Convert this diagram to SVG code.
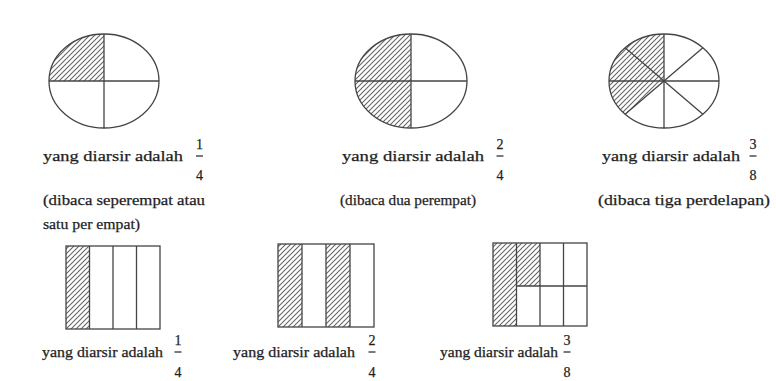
<svg xmlns="http://www.w3.org/2000/svg" width="776" height="381" viewBox="0 0 776 381">
<defs>
<pattern id="hatch" patternUnits="userSpaceOnUse" width="5" height="5">
<path d="M-1,1 l2,-2 M0,5 l5,-5 M4,6 l2,-2" stroke="#666" stroke-width="1.1"/>
</pattern>
</defs>
<style>
.ln{fill:none;stroke:#444;stroke-width:1.3}
.hf{fill:url(#hatch);stroke:none}
text{font-family:'Liberation Serif','DejaVu Serif','Times New Roman',serif;fill:#1e1e1e;stroke:#1e1e1e;stroke-width:0.25}
.t1{font-size:15px}
.t2{font-size:14px}
.fr{font-size:14px;text-anchor:middle}
.bar{stroke:#222;stroke-width:1.2}
</style>
<rect width="776" height="381" fill="#fff"/>

<g id="circle-1-4">
<path class="hf" d="M104,81 L49,81 A55,47 0 0 1 104,34 Z"/>
<ellipse class="ln" cx="104" cy="81" rx="55" ry="47"/>
<line class="ln" x1="104" y1="34" x2="104" y2="128"/>
<line class="ln" x1="49" y1="81" x2="159" y2="81"/>
</g>

<g id="circle-2-4">
<path class="hf" d="M411,34 A56,47 0 0 0 411,128 Z"/>
<ellipse class="ln" cx="411" cy="81" rx="56" ry="47"/>
<line class="ln" x1="411" y1="34" x2="411" y2="128"/>
<line class="ln" x1="355" y1="81" x2="467" y2="81"/>
</g>

<g id="circle-3-8">
<path class="hf" d="M664,81 L664,34 A55,47 0 0 0 625.1,114.2 Z"/>
<ellipse class="ln" cx="664" cy="81" rx="55" ry="47"/>
<line class="ln" x1="664" y1="34" x2="664" y2="128"/>
<line class="ln" x1="609" y1="81" x2="719" y2="81"/>
<line class="ln" x1="625.1" y1="47.8" x2="702.9" y2="114.2"/>
<line class="ln" x1="702.9" y1="47.8" x2="625.1" y2="114.2"/>
</g>

<g id="label-circle-1">
<text class="t1" x="43" y="161" textLength="140" lengthAdjust="spacingAndGlyphs">yang diarsir adalah</text>
<text class="fr" x="199.5" y="149">1</text>
<line class="bar" x1="196" y1="156" x2="203" y2="156"/>
<text class="fr" x="199.5" y="180">4</text>
<text class="t1" x="43" y="205" textLength="162" lengthAdjust="spacingAndGlyphs">(dibaca seperempat atau</text>
<text class="t1" x="43" y="229" textLength="97" lengthAdjust="spacingAndGlyphs">satu per empat)</text>
</g>

<g id="label-circle-2">
<text class="t1" x="342" y="161" textLength="142" lengthAdjust="spacingAndGlyphs">yang diarsir adalah</text>
<text class="fr" x="500" y="149">2</text>
<line class="bar" x1="496.5" y1="156" x2="503.5" y2="156"/>
<text class="fr" x="500" y="180">4</text>
<text class="t1" x="340" y="205" textLength="136" lengthAdjust="spacingAndGlyphs">(dibaca dua perempat)</text>
</g>

<g id="label-circle-3">
<text class="t1" x="602" y="161" textLength="138" lengthAdjust="spacingAndGlyphs">yang diarsir adalah</text>
<text class="fr" x="753" y="149">3</text>
<line class="bar" x1="749.5" y1="156" x2="756.5" y2="156"/>
<text class="fr" x="753" y="180">8</text>
<text class="t1" x="598" y="205" textLength="172" lengthAdjust="spacingAndGlyphs">(dibaca tiga perdelapan)</text>
</g>

<g id="rect-1-4">
<rect class="hf" x="66" y="246" width="23.5" height="83"/>
<rect class="ln" x="66" y="246" width="94" height="83"/>
<line class="ln" x1="89.5" y1="246" x2="89.5" y2="329"/>
<line class="ln" x1="113" y1="246" x2="113" y2="329"/>
<line class="ln" x1="136.5" y1="246" x2="136.5" y2="329"/>
</g>

<g id="rect-2-4">
<rect class="hf" x="278" y="244" width="24" height="83"/>
<rect class="hf" x="326" y="244" width="24" height="83"/>
<rect class="ln" x="278" y="244" width="96" height="83"/>
<line class="ln" x1="302" y1="244" x2="302" y2="327"/>
<line class="ln" x1="326" y1="244" x2="326" y2="327"/>
<line class="ln" x1="350" y1="244" x2="350" y2="327"/>
</g>

<g id="rect-3-8">
<rect class="hf" x="493" y="243" width="23.5" height="83"/>
<rect class="hf" x="516.5" y="243" width="23.5" height="43"/>
<rect class="ln" x="493" y="243" width="94" height="83"/>
<line class="ln" x1="516.5" y1="243" x2="516.5" y2="326"/>
<line class="ln" x1="540" y1="243" x2="540" y2="326"/>
<line class="ln" x1="563.5" y1="243" x2="563.5" y2="326"/>
<line class="ln" x1="516.5" y1="286" x2="587" y2="286"/>
</g>

<g id="label-rect-1">
<text class="t2" x="42" y="357" textLength="121" lengthAdjust="spacingAndGlyphs">yang diarsir adalah</text>
<text class="fr" x="178" y="345">1</text>
<line class="bar" x1="174.5" y1="352" x2="181.5" y2="352"/>
<text class="fr" x="178" y="377">4</text>
</g>

<g id="label-rect-2">
<text class="t2" x="233" y="357" textLength="122" lengthAdjust="spacingAndGlyphs">yang diarsir adalah</text>
<text class="fr" x="372" y="345">2</text>
<line class="bar" x1="368.5" y1="352" x2="375.5" y2="352"/>
<text class="fr" x="372" y="377">4</text>
</g>

<g id="label-rect-3">
<text class="t2" x="440" y="357" textLength="118" lengthAdjust="spacingAndGlyphs">yang diarsir adalah</text>
<text class="fr" x="567" y="345">3</text>
<line class="bar" x1="563.5" y1="352" x2="570.5" y2="352"/>
<text class="fr" x="567" y="377">8</text>
</g>
</svg>
